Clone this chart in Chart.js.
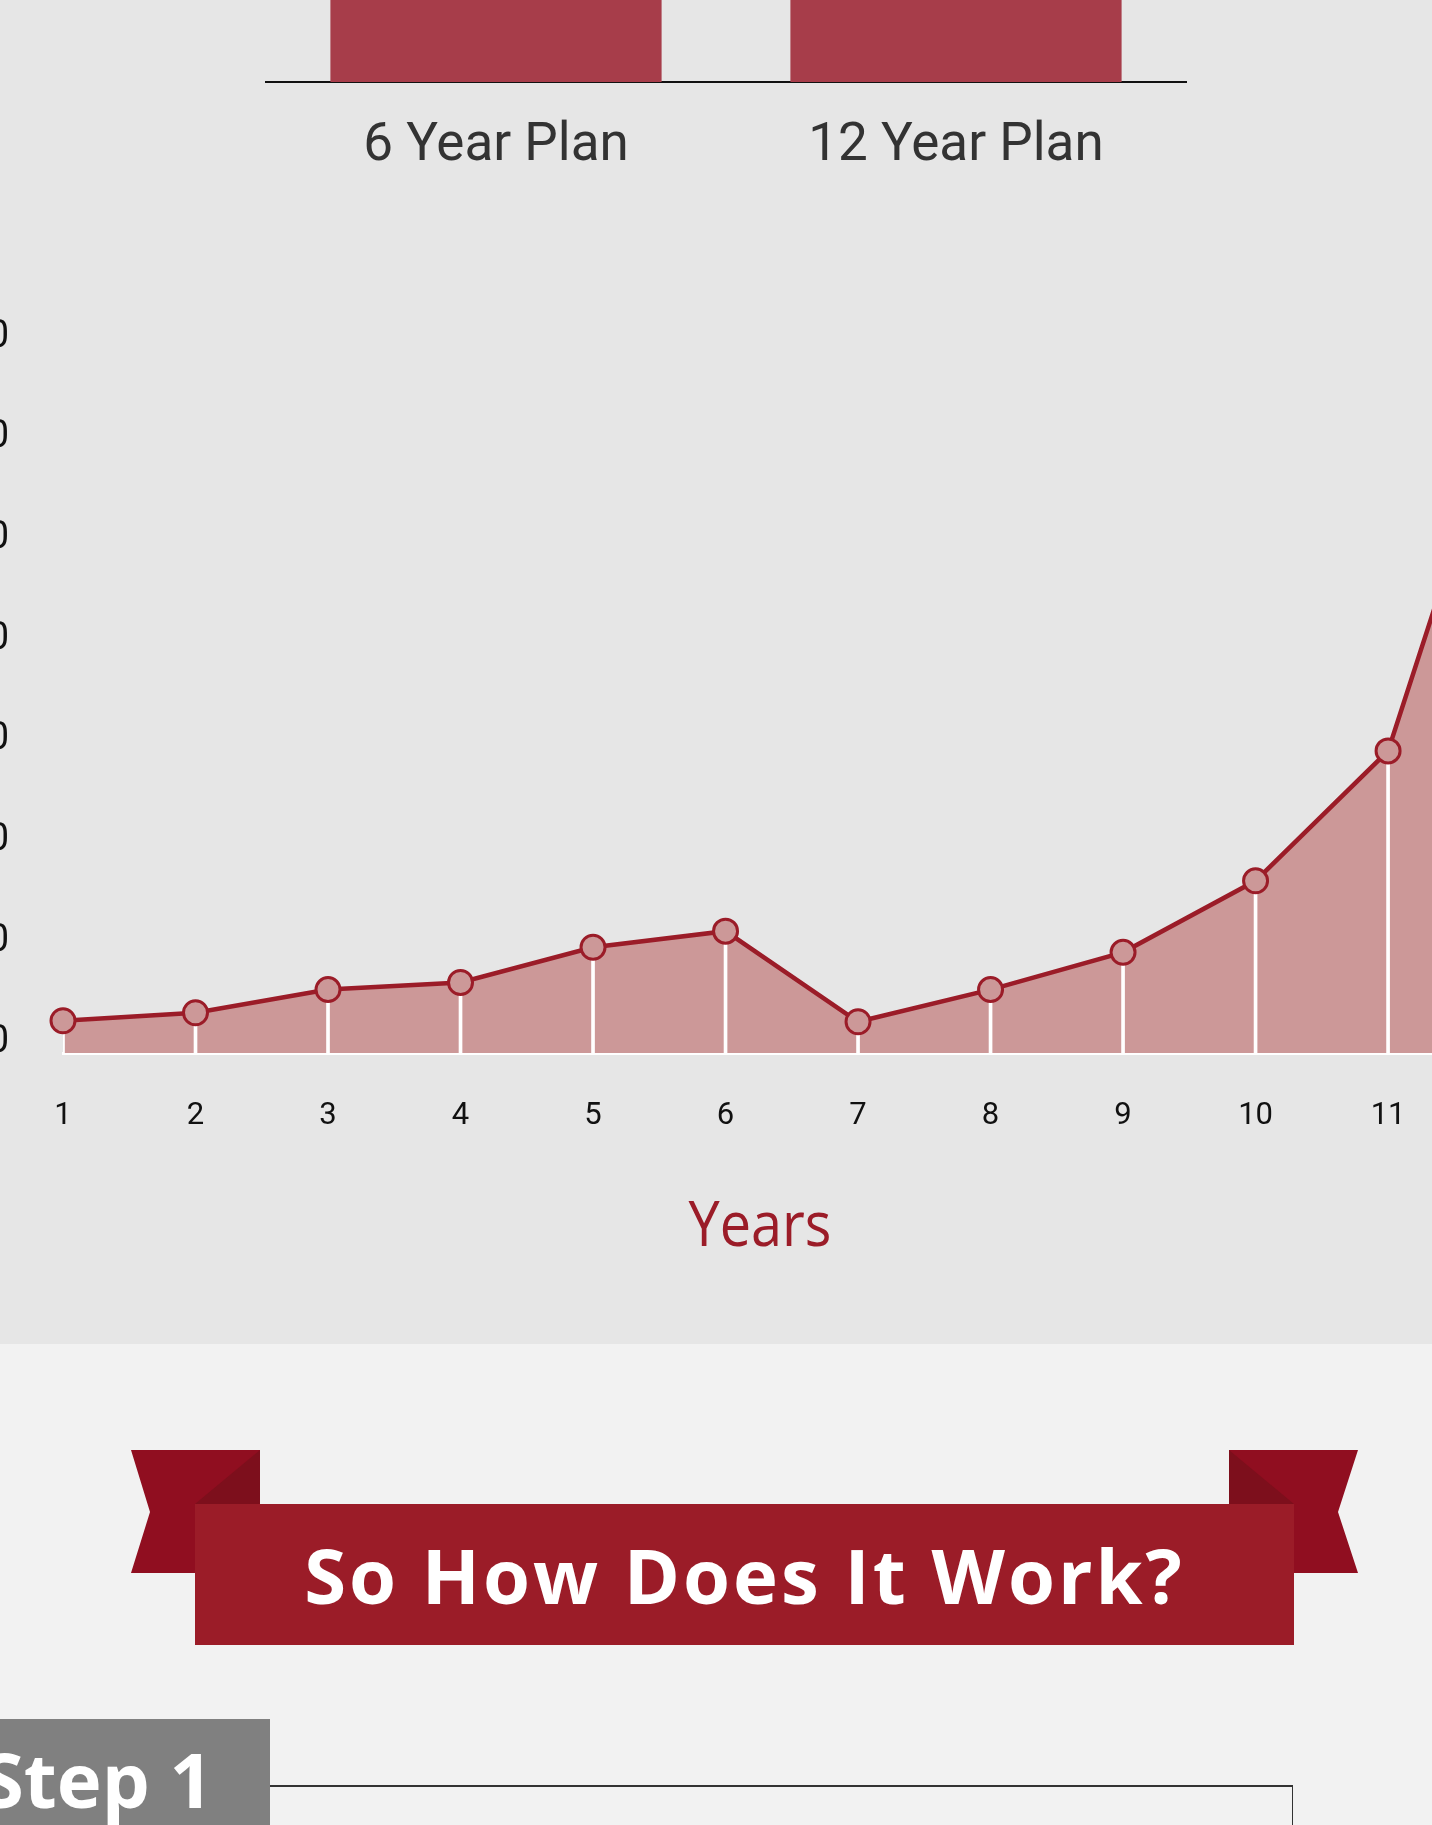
<!DOCTYPE html>
<html>
<head>
<meta charset="utf-8">
<script src="https://cdn.jsdelivr.net/npm/chart.js"></script>
<style>
  html, body { margin: 0; padding: 0; overflow: hidden; }
  #page { position: relative; width: 1432px; height: 1825px; overflow: hidden; background: #f2f2f2; }
  #top-bg { position: absolute; left: 0; top: 0; width: 1432px; height: 1344px; background: #e6e6e6; }
  #planChart { position: absolute; left: 0; top: -400px; }
  #growthChart { position: absolute; left: -137px; top: 221px; }
  #years-title {
    position: absolute; left: 660px; top: 1180px; width: 200px; text-align: center;
    font-family: "Open Sans", sans-serif; font-size: 62px; color: #9b1c28;
    transform: scaleX(0.9); line-height: 84px;
  }
  #banner { position: absolute; left: 0; top: 0; }
  #banner-text {
    position: absolute; left: 195px; top: 1504px; width: 1099px; height: 141px;
    text-align: center; line-height: 141px; color: #fff; letter-spacing: 3px;
    font-family: "Open Sans", sans-serif; font-weight: 700; font-size: 76px;
  }
  #step-box { position: absolute; left: 0; top: 1719px; width: 270px; height: 106px; background: #808080; }
  #step-text {
    position: absolute; right: 1219px; top: 1726px; white-space: nowrap; color: #fff;
    font-family: "Open Sans", sans-serif; font-weight: 700; font-size: 76px; line-height: 106px;
  }
  #step-line { position: absolute; left: 270px; top: 1785px; width: 1023px; height: 2px; background: #333; }
  #step-side { position: absolute; left: 1292px; top: 1785px; width: 1px; height: 60px; background: #333; }
</style>
</head>
<body>
<div id="page">
  <div id="top-bg"></div>
  <canvas id="planChart" width="1432" height="600"></canvas>
  <canvas id="growthChart" width="1720" height="939"></canvas>
  <div id="years-title">Years</div>

  <svg id="banner" width="1432" height="1825">
    <polygon points="131,1450 260,1450 260,1573 131,1573 150,1512" fill="#900e20"/>
    <polygon points="1229,1450 1358,1450 1338,1512 1358,1573 1229,1573" fill="#900e20"/>
    <polygon points="195,1504 260,1450 260,1504" fill="#7d0f1c"/>
    <polygon points="1229,1450 1229,1504 1294,1504" fill="#7d0f1c"/>
    <rect x="195" y="1504" width="1099" height="141" fill="#9b1c28"/>
  </svg>
  <div id="banner-text">So How Does It Work?</div>

  <div id="step-box"></div>
  <div id="step-text">Step 1</div>
  <div id="step-line"></div>
  <div id="step-side"></div>
</div>

<script>
// plan comparison bars (tops are cut off in the picture)
const planLabels = ["6 Year Plan", "12 Year Plan"];
const planValues = [88, 92];

// growth per year
const yearLabels = ["1", "2", "3", "4", "5", "6", "7", "8", "9", "10", "11", "12"];
const balanceValues = [3200, 4000, 6300, 7000, 10500, 12100, 3100, 6300, 10000, 17100, 30000, 70500];
const balanceTicks = [0, 10000, 20000, 30000, 40000, 50000, 60000, 70000];
const balanceMax = 75000;

document.addEventListener("DOMContentLoaded", () => {
  const red = "#9b1c28";
  const pink = "#cc9898";

  // 1. Bar chart at the top
  new Chart(document.getElementById("planChart"), {
    type: "bar",
    data: {
      labels: planLabels,
      datasets: [{
        data: planValues,
        backgroundColor: "#a73d4a",
        categoryPercentage: 1,
        barPercentage: 0.72
      }]
    },
    options: {
      responsive: false,
      animation: false,
      layout: { padding: { left: 266, right: 246, top: 0, bottom: 0 } },
      plugins: { legend: { display: false }, tooltip: { enabled: false } },
      scales: {
        y: { display: false, min: 0, max: 100 },
        x: {
          afterFit: (scale) => { scale.height = 118; },
          grid: { display: false, drawTicks: false },
          border: { display: true, color: "#111", width: 2 },
          ticks: {
            padding: 33,
            color: "#333",
            font: { family: "Roboto", size: 53 }
          }
        }
      }
    }
  });

  // 2. Line chart with white drop lines under each point
  new Chart(document.getElementById("growthChart"), {
    type: "line",
    data: {
      labels: yearLabels,
      datasets: [
        {
          type: "line",
          data: balanceValues,
          borderColor: red,
          borderWidth: 4.5,
          backgroundColor: pink,
          fill: "origin",
          tension: 0,
          pointRadius: 12,
          pointBorderWidth: 3,
          pointBackgroundColor: pink,
          pointBorderColor: red,
          order: 0
        },
        {
          type: "bar",
          data: balanceValues,
          backgroundColor: "#ffffff",
          barThickness: 3,
          order: 1
        }
      ]
    },
    options: {
      responsive: false,
      animation: false,
      layout: { padding: 0 },
      plugins: {
        legend: { display: false },
        tooltip: { enabled: false },
        filler: { drawTime: "beforeDatasetsDraw" }
      },
      scales: {
        x: {
          offset: false,
          afterFit: (scale) => { scale.height = 107; },
          grid: { display: false, drawTicks: false },
          border: { display: true, color: "#ffffff", width: 3 },
          ticks: {
            padding: 45,
            color: "#111",
            font: { family: "Roboto", size: 31 }
          }
        },
        y: {
          min: 0,
          max: balanceMax,
          afterFit: (scale) => { scale.width = 200; },
          afterBuildTicks: (scale) => { scale.ticks = balanceTicks.map(v => ({ value: v })); },
          grid: { display: false, drawTicks: false },
          border: { display: false },
          ticks: {
            padding: 54,
            labelOffset: -11,
            color: "#111",
            font: { family: "Roboto", size: 38 },
            callback: (v) => "$" + v.toLocaleString("en-US")
          }
        }
      }
    }
  });
});
</script>
</body>
</html>
